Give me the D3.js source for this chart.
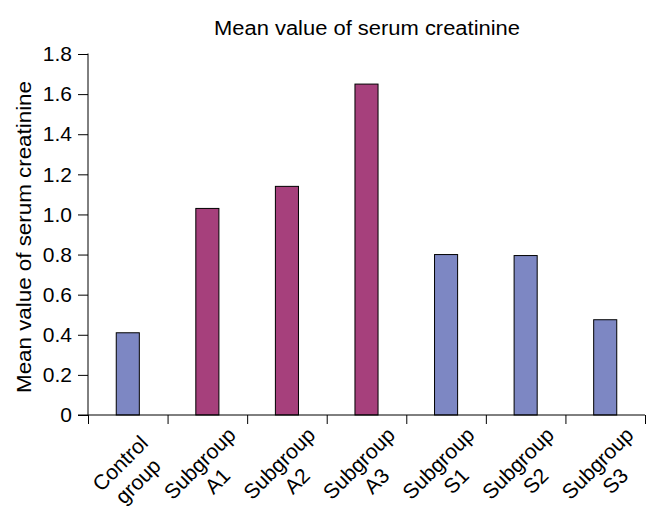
<!DOCTYPE html>
<html>
<head>
<meta charset="utf-8">
<script src="https://cdn.jsdelivr.net/npm/d3@7"></script>
<style>
  body { margin: 0; background: #fff; }
  text { font-family: "Liberation Sans", Arial, sans-serif; fill: #000; }
</style>
</head>
<body>
<svg width="666" height="521"></svg>
<script>
// chart data
var categories = ["Control group", "Subgroup A1", "Subgroup A2", "Subgroup A3", "Subgroup S1", "Subgroup S2", "Subgroup S3"];
var labelLines = [["Control", "group"], ["Subgroup", "A1"], ["Subgroup", "A2"], ["Subgroup", "A3"], ["Subgroup", "S1"], ["Subgroup", "S2"], ["Subgroup", "S3"]];
var values = [0.41, 1.03, 1.14, 1.65, 0.80, 0.795, 0.475];
var groups = ["C", "A", "A", "A", "S", "S", "S"];
var yTicks = [0, 0.2, 0.4, 0.6, 0.8, 1.0, 1.2, 1.4, 1.6, 1.8];

var colour = { C: "#7d87c3", A: "#a6407c", S: "#7d87c3" };

var svg = d3.select("svg"),
    plotLeft = 88, plotRight = 645, plotTop = 54, plotBottom = 415;

var x = d3.scaleBand()
    .domain(categories)
    .range([plotLeft, plotRight])
    .paddingInner(0.71)
    .paddingOuter(0.355);

var edges = d3.scaleLinear().domain([0, categories.length]).range([plotLeft, plotRight]);

var y = d3.scaleLinear().domain([0, 1.8]).range([plotBottom, plotTop]);

// title
svg.append("text")
    .attr("x", 367)
    .attr("y", 35)
    .attr("text-anchor", "middle")
    .attr("font-size", 20)
    .attr("textLength", 306)
    .attr("lengthAdjust", "spacingAndGlyphs")
    .text("Mean value of serum creatinine");

// y axis label
svg.append("text")
    .attr("transform", "translate(31,237) rotate(-90)")
    .attr("text-anchor", "middle")
    .attr("font-size", 21)
    .attr("textLength", 312)
    .attr("lengthAdjust", "spacingAndGlyphs")
    .text("Mean value of serum creatinine");

// bars
svg.append("g")
    .selectAll("rect")
    .data(values)
    .join("rect")
      .attr("x", (d, i) => x(categories[i]))
      .attr("y", d => y(d))
      .attr("width", x.bandwidth())
      .attr("height", d => y(0) - y(d))
      .attr("fill", (d, i) => colour[groups[i]])
      .attr("stroke", "#000")
      .attr("stroke-width", 1);

// y axis
var yAxis = svg.append("g")
    .attr("transform", "translate(" + plotLeft + ",0)")
    .call(d3.axisLeft(y)
        .tickValues(yTicks)
        .tickSize(10)
        .tickPadding(6)
        .tickFormat(d => d === 0 ? "0" : d.toFixed(1)));
yAxis.selectAll("text").attr("font-size", 21).attr("font-family", "Liberation Sans, Arial, sans-serif");
yAxis.selectAll("line, path").attr("stroke", "#000");
yAxis.select(".domain").attr("d", "M0," + y(0) + "V" + (plotTop - 0.5));

// x axis line and boundary ticks
var xAxis = svg.append("g")
    .attr("transform", "translate(0," + plotBottom + ")")
    .call(d3.axisBottom(edges).ticks(categories.length).tickSize(9).tickFormat(""));
xAxis.selectAll("line, path").attr("stroke", "#000");
xAxis.select(".domain").attr("d", "M" + (plotLeft - 10) + ",0H" + plotRight);

// rotated two-line category labels
var lab = svg.append("g")
    .selectAll("g")
    .data(labelLines)
    .join("g")
      .attr("transform", (d, i) => "translate(" + (x(categories[i]) + x.bandwidth() / 2 + 1) + ",472) rotate(-45)");

lab.append("text")
    .attr("text-anchor", "middle")
    .attr("font-size", 21)
    .selectAll("tspan")
    .data(d => d)
    .join("tspan")
      .attr("x", 0)
      .attr("y", (d, i) => i === 0 ? -5 : 20)
      .text(d => d);
</script>
</body>
</html>
